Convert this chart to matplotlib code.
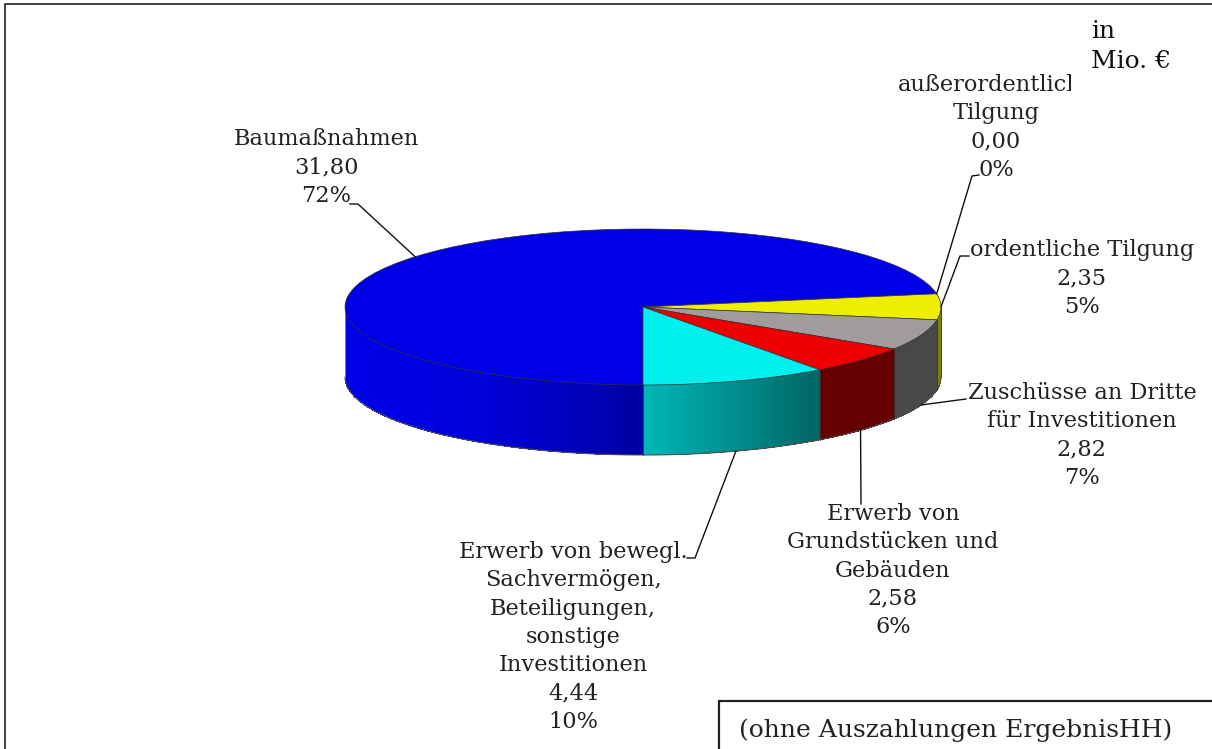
import numpy as np
import matplotlib
matplotlib.use('Agg')
import matplotlib.pyplot as plt
from matplotlib.patches import Rectangle

# Mio. EUR, clockwise from the bottom of the pie
names = ['Baumaßnahmen', 'außerordentliche\nTilgung', 'ordentliche Tilgung',
         'Zuschüsse an Dritte\nfür Investitionen', 'Erwerb von\nGrundstücken und\nGebäuden',
         'Erwerb von bewegl.\nSachvermögen,\nBeteiligungen,\nsonstige\nInvestitionen']
values = [31.80, 0.00, 2.35, 2.82, 2.58, 4.44]
percents = ['72%', '0%', '5%', '7%', '6%', '10%']

top_colors = ['#0000e6', '#eeee00', '#eeee00', '#a09c9c', '#ee0000', '#00f0f0']
# wall colour at the left and right end of each slice
wall_left = ['#0000e6', '#808000', '#808000', '#484848', '#660000', '#00b8b8']
wall_right = ['#0000a0', '#808000', '#808000', '#484848', '#660000', '#006664']
wall_gamma = [2, 1, 1, 1, 1, 1]

W, H = 1212, 749
CX, CY, RX, RY, DEPTH = 643, 307, 298, 78, 70
FONT = 'DejaVu Serif'
SIZE = 16.2
TEXT = '#222222'


def px(x, y):
    return (x - CX) / RX, (CY - y) / RY


fig = plt.figure(figsize=(12.12, 7.49), dpi=100)
ax = fig.add_axes([0, 0, 1, 1])

ax.pie(values, colors=top_colors, startangle=270, counterclock=False, radius=1,
       wedgeprops={'edgecolor': '#303030', 'linewidth': 0.5, 'zorder': 5})
ax.set_aspect('auto')
ax.set_xlim(px(0, 0)[0], px(W, 0)[0])
ax.set_ylim(px(0, H)[1], px(0, 0)[1])
ax.axis('off')

depth = DEPTH / RY
total = sum(values)
ends = 270 - np.cumsum(values) / total * 360
starts = np.concatenate([[270], ends[:-1]])
mids = (starts + ends) / 2


def rgb(c):
    return np.array(matplotlib.colors.to_rgb(c))


# side walls, only the front half of the rim shows
for a0, a1, c0, c1, g in zip(starts, ends, wall_left, wall_right, wall_gamma):
    if a0 == a1:
        continue
    lo, hi = a1 % 360, a0 % 360
    if hi <= lo:
        hi += 360
    lo2, hi2 = max(lo, 180), min(hi, 360)
    if hi2 <= lo2:
        continue
    steps = np.linspace(lo2, hi2, int(hi2 - lo2) * 2 + 2)
    for s0, s1 in zip(steps[:-1], steps[1:]):
        t = (np.cos(np.radians((s0 + s1) / 2)) - np.cos(np.radians(lo2)))
        t = (t / (np.cos(np.radians(hi2)) - np.cos(np.radians(lo2)))) ** g
        col = rgb(c0) + (rgb(c1) - rgb(c0)) * t
        xs = np.cos(np.radians([s0, s1, s1, s0]))
        ys = np.sin(np.radians([s0, s1, s1, s0])) - np.array([0, 0, depth, depth])
        ax.fill(xs, ys, facecolor=col, edgecolor='none', lw=0, antialiased=False, zorder=2)

# outline and seams of the walls
arc = np.radians(np.linspace(180, 360, 300))
ax.plot(np.cos(arc), np.sin(arc) - depth, color='#505050', lw=0.8, zorder=3)
ax.plot([-1, -1], [0, -depth], color='#808080', lw=0.7, zorder=3)
ax.plot([1, 1], [0, -depth], color='#404040', lw=0.7, zorder=3)
for a in ends:
    r = np.radians(a)
    if np.sin(r) < 0:
        ax.plot([np.cos(r)] * 2, [np.sin(r), np.sin(r) - depth], color='#303030', lw=0.6, zorder=3)

# leader lines start on the slice they belong to
bends = [[(358, 204), (350, 204)], [(972, 176), (979, 175)], [(960, 256), (969, 256)],
         [(966, 399)], [(861, 504)], [(695, 558), (687, 558)]]
for i, (a, b) in enumerate(zip(mids, bends)):
    r = np.radians(a)
    x0, y0 = np.cos(r), np.sin(r)
    if y0 < 0:
        y0 -= depth
    pts = [(x0, y0)] + [px(*p) for p in b]
    ax.plot([p[0] for p in pts], [p[1] for p in pts], color='#111111', lw=1.0, zorder=6)

# labels
label_pos = [(326, 128), (996, 74), (1082, 239), (1082, 382), (893, 503), (573, 541)]
for name, val, pct, (x, y) in zip(names, values, percents, label_pos):
    s = name + '\n' + f'{val:.2f}'.replace('.', ',') + '\n' + pct
    xd, yd = px(x, y)
    ax.text(xd, yd, s, ha='center', va='top', family=FONT, fontsize=SIZE, color=TEXT,
            linespacing=1.37, zorder=7)

# frame and the boxes that lie over the chart
ax.add_patch(Rectangle(px(1071, 106), 130 / RX, 86 / RY, fc='white', ec='none', zorder=8))
ax.plot(*zip(px(4.5, H), px(4.5, 4.5), px(W, 4.5)), color='#222222', lw=1.2, zorder=9)

ax.text(*px(1091, 32), 'in', va='center', family=FONT, fontsize=18, color='#111111', zorder=9)
ax.text(*px(1091, 62), 'Mio. €', va='center', family=FONT, fontsize=18, color='#111111', zorder=9)

ax.add_patch(Rectangle(px(719, H + 5), 520 / RX, 53 / RY, fc='white', ec='#222222', lw=1.6, zorder=8))
ax.text(*px(739, 730), '(ohne Auszahlungen ErgebnisHH)', va='center', family=FONT,
        fontsize=18, color=TEXT, zorder=9)

fig.savefig('out.png', dpi=100)
